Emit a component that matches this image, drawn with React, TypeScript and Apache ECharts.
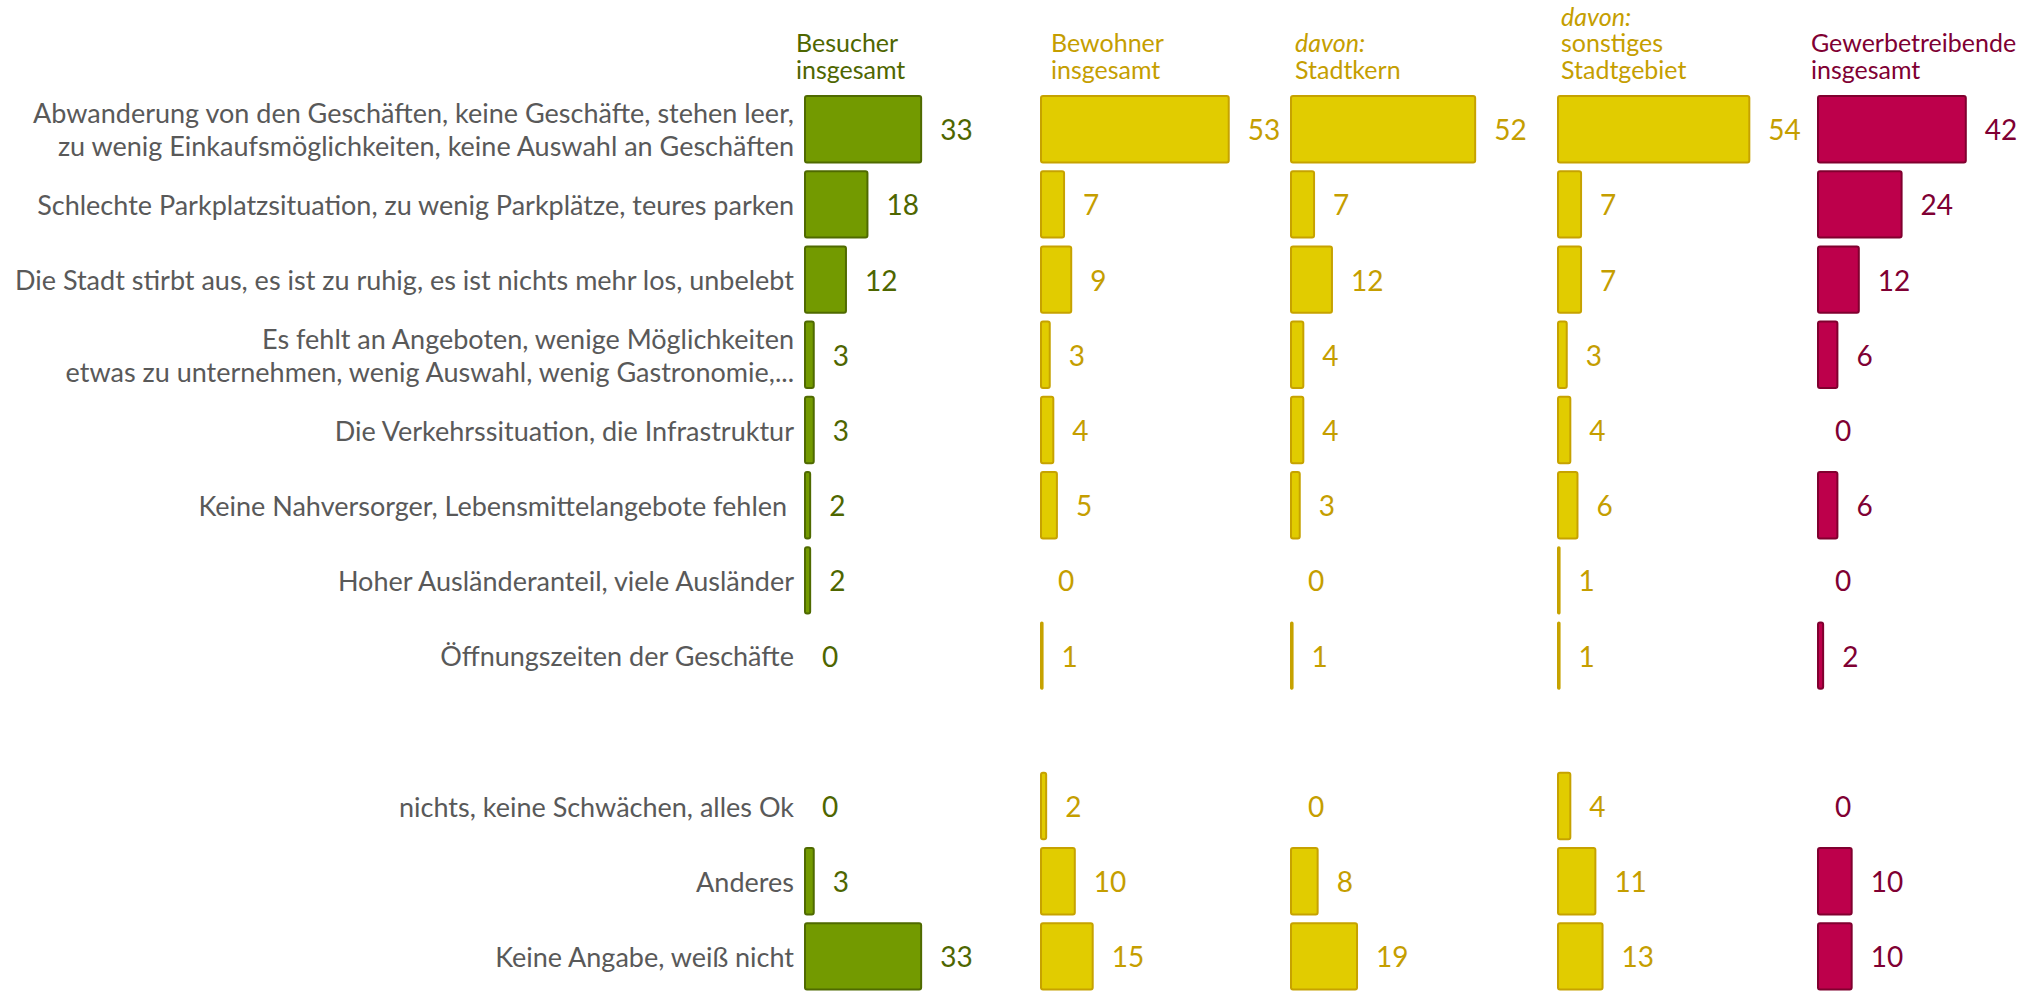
import React, { useEffect, useRef } from "react";
import * as echarts from "echarts";

const categories: string[] = [
  "Abwanderung von den Geschäften, keine Geschäfte, stehen leer,\nzu wenig Einkaufsmöglichkeiten, keine Auswahl an Geschäften",
  "Schlechte Parkplatzsituation, zu wenig Parkplätze, teures parken",
  "Die Stadt stirbt aus, es ist zu ruhig, es ist nichts mehr los, unbelebt",
  "Es fehlt an Angeboten, wenige Möglichkeiten\netwas zu unternehmen, wenig Auswahl, wenig Gastronomie,...",
  "Die Verkehrssituation, die Infrastruktur",
  "Keine Nahversorger, Lebensmittelangebote fehlen ",
  "Hoher Ausländeranteil, viele Ausländer",
  "Öffnungszeiten der Geschäfte",
  "",
  "nichts, keine Schwächen, alles Ok",
  "Anderes",
  "Keine Angabe, weiß nicht",
];

const besucher: (number | null)[] = [33, 18, 12, 3, 3, 2, 2, 0, null, 0, 3, 33];
const bewohner: (number | null)[] = [53, 7, 9, 3, 4, 5, 0, 1, null, 2, 10, 15];
const stadtkern: (number | null)[] = [52, 7, 12, 4, 4, 3, 0, 1, null, 0, 8, 19];
const sonstiges: (number | null)[] = [54, 7, 7, 3, 4, 6, 1, 1, null, 4, 11, 13];
const gewerbe: (number | null)[] = [42, 24, 12, 6, 0, 6, 0, 2, null, 0, 10, 10];

const headers: string[] = [
  "Besucher\ninsgesamt",
  "Bewohner\ninsgesamt",
  "{i|davon:}\nStadtkern",
  "{i|davon:}\nsonstiges\nStadtgebiet",
  "Gewerbetreibende\ninsgesamt",
];

const FONT = "Lato";

const GREEN = { fill: "#739a00", border: "#4f6a00", text: "#4e6600" };
const YELLOW = { fill: "#e1cc00", border: "#c6a200", text: "#c59e00" };
const RED = { fill: "#bd004b", border: "#80002f", text: "#7f0033" };

const panels = [
  { values: besucher, col: GREEN, left: 804, headerX: 796 },
  { values: bewohner, col: YELLOW, left: 1040, headerX: 1051 },
  { values: stadtkern, col: YELLOW, left: 1290, headerX: 1295 },
  { values: sonstiges, col: YELLOW, left: 1557, headerX: 1561 },
  { values: gewerbe, col: RED, left: 1817, headerX: 1811 },
];

export default function App() {
  const ref = useRef<HTMLDivElement>(null);
  useEffect(() => {
    if (!ref.current) return;
    const chart = echarts.init(ref.current, undefined, { renderer: "svg" });
    const PX_PER_UNIT = 3.58;
    const MAXV = 60;
    const grids = panels.map((p) => ({
      left: p.left,
      top: 91.6,
      bottom: -6.3,
      width: MAXV * PX_PER_UNIT,
      containLabel: false,
    }));
    const xAxes = panels.map((_, i) => ({
      type: "value",
      gridIndex: i,
      min: 0,
      max: MAXV,
      show: false,
    }));
    const yAxes = panels.map((_, i) => ({
      type: "category",
      gridIndex: i,
      data: categories,
      inverse: true,
      axisLine: { show: false },
      axisTick: { show: false },
      splitLine: { show: false },
      axisLabel: {
        show: i === 0,
        color: "#595959",
        fontFamily: FONT,
        fontSize: 27,
        lineHeight: 32.5,
        margin: 10,
        align: "right",
      },
    }));
    const series = panels.map((p, i) => ({
      type: "bar",
      xAxisIndex: i,
      yAxisIndex: i,
      barCategoryGap: "9%",
      data: p.values.map((v) =>
        v === 0
          ? { value: v, itemStyle: { color: "transparent", borderWidth: 0 } }
          : v
      ),
      itemStyle: {
        color: p.col.fill,
        borderColor: p.col.border,
        borderWidth: 2,
        borderRadius: 2,
      },
      label: {
        show: true,
        position: "right",
        distance: 18,
        color: p.col.text,
        fontFamily: FONT,
        fontSize: 28,
      },
    }));
    const graphic = panels.map((p, i) => ({
      type: "text",
      left: p.headerX,
      bottom: 994 - 82,
      style: {
        text: headers[i],
        fill: p.col.text,
        fontFamily: FONT,
        fontSize: 25,
        lineHeight: 26.5,
        rich: {
          i: {
            fontStyle: "italic",
            fill: p.col.text,
            fontFamily: FONT,
            fontSize: 25,
            lineHeight: 26.5,
          },
        },
      },
    }));
    chart.setOption({
      animation: false,
      backgroundColor: "#ffffff",
      grid: grids,
      xAxis: xAxes,
      yAxis: yAxes,
      series,
      graphic,
    });
    return () => chart.dispose();
  }, []);
  return (
    <div
      ref={ref}
      style={{ position: "absolute", left: 0, top: 0, width: 2031, height: 994 }}
    />
  );
}
